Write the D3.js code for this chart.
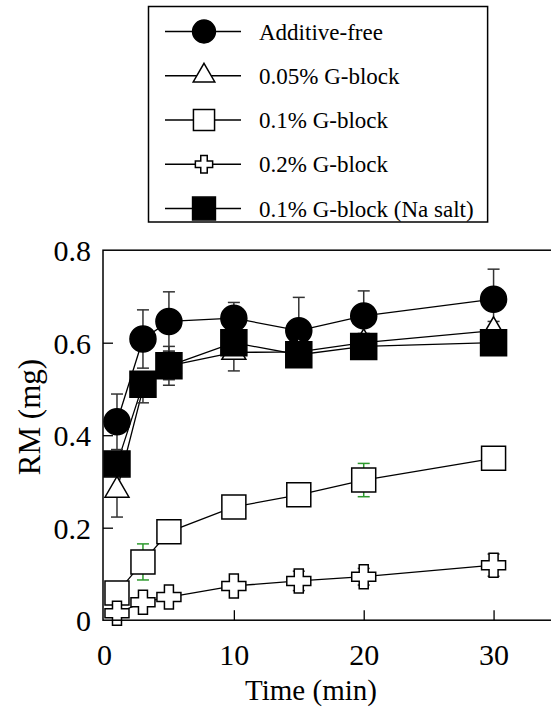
<!DOCTYPE html>
<html>
<head>
<meta charset="utf-8">
<script src="https://cdn.jsdelivr.net/npm/d3@7"></script>
<style>
  html, body { margin: 0; padding: 0; background: #fff; }
  svg { display: block; }
  text { font-family: "Liberation Serif", "Times New Roman", serif; fill: #000; }
</style>
</head>
<body>
<svg id="chart" width="551" height="713"></svg>
<script>
// ---- data ----
const times = [1, 3, 5, 10, 15, 20, 30];
const additiveFree = [0.429, 0.608, 0.646, 0.653, 0.626, 0.658, 0.694];
const additiveFreeErr = [0.06, 0.063, 0.064, 0.034, 0.072, 0.054, 0.065];
const gblock005 = [0.281, 0.50, 0.55, 0.579, 0.58, 0.60, 0.626];
const gblock005Err = [0.058, 0.03, 0.03, 0.04, 0.02, 0.02, 0.02];
const gblock01 = [0.059, 0.126, 0.191, 0.245, 0.271, 0.303, 0.35];
const gblock01Err = [0.01, 0.039, 0.01, 0.01, 0.01, 0.036, 0.01];
const gblock02 = [0.015, 0.039, 0.05, 0.074, 0.085, 0.094, 0.119];
const gblock02Err = [0.005, 0.005, 0.005, 0.008, 0.021, 0.018, 0.024];
const gblock01Na = [0.338, 0.51, 0.55, 0.60, 0.574, 0.592, 0.60];
const gblock01NaErr = [0.02, 0.02, 0.042, 0.02, 0.02, 0.02, 0.02];
const seriesNames = ["Additive-free", "0.05% G-block", "0.1% G-block", "0.2% G-block", "0.1% G-block (Na salt)"];
const xTicks = [0, 10, 20, 30];
const yTicks = [0, 0.2, 0.4, 0.6, 0.8];
const xLabel = "Time (min)";
const yLabel = "RM (mg)";

// ---- layout ----
const svg = d3.select("#chart");
const x = d3.scaleLinear().domain([0, 35]).range([104, 558.5]);
const y = d3.scaleLinear().domain([0, 0.8]).range([620.2, 250.2]);

const G = "#333", GR = "#2e9a2e";
const series = [
  { name: seriesNames[0], vals: additiveFree, err: additiveFreeErr, shape: "circle", fill: "#000", errColor: [G,G,G,G,G,G,G] },
  { name: seriesNames[1], vals: gblock005, err: gblock005Err, shape: "triangle", fill: "#fff", errColor: [G,G,G,G,G,G,G] },
  { name: seriesNames[2], vals: gblock01, err: gblock01Err, shape: "square", fill: "#fff", errColor: [G,GR,G,G,G,GR,G] },
  { name: seriesNames[3], vals: gblock02, err: gblock02Err, shape: "cross", fill: "#fff", errColor: [G,G,G,G,G,G,G] },
  { name: seriesNames[4], vals: gblock01Na, err: gblock01NaErr, shape: "bigsquare", fill: "#000", errColor: [G,G,G,G,G,G,G] }
];

function shapePath(shape, s) {
  if (shape === "circle") return d3.symbol(d3.symbolCircle, Math.PI * Math.pow(13 * s, 2))();
  if (shape === "triangle") { const r = 6.93 * s; return d3.symbol(d3.symbolTriangle, r * r * 3 * Math.sqrt(3))(); }
  if (shape === "square") { const h = 12 * s; return `M${-h},${-h}H${h}V${h}H${-h}Z`; }
  if (shape === "bigsquare") { const h = 13 * s; return `M${-h},${-h}H${h}V${h}H${-h}Z`; }
  if (shape === "cross") {
    const h = 12 * s, a = 4.5 * s;
    return `M${-a},${-h}H${a}V${-a}H${h}V${a}H${a}V${h}H${-a}V${a}H${-h}V${-a}H${-a}Z`;
  }
}

const plot = svg.append("g");

// connecting lines
series.forEach(sr => {
  plot.append("path")
    .datum(times.map((t, i) => [t, sr.vals[i]]))
    .attr("fill", "none").attr("stroke", "#000").attr("stroke-width", 1.3)
    .attr("d", d3.line().x(d => x(d[0])).y(d => y(d[1])));
});

// error bars
series.forEach(sr => {
  times.forEach((t, i) => {
    const cx = x(t), y1 = y(sr.vals[i] + sr.err[i]), y2 = y(sr.vals[i] - sr.err[i]);
    const g = plot.append("g").attr("stroke", sr.errColor[i]).attr("stroke-width", 1.5);
    g.append("line").attr("x1", cx).attr("x2", cx).attr("y1", y1).attr("y2", y2);
    g.append("line").attr("x1", cx - 6).attr("x2", cx + 6).attr("y1", y1).attr("y2", y1);
    g.append("line").attr("x1", cx - 6).attr("x2", cx + 6).attr("y1", y2).attr("y2", y2);
  });
});

// markers
series.forEach(sr => {
  plot.append("g").selectAll("path").data(times.map((t, i) => [t, sr.vals[i]]))
    .join("path")
    .attr("transform", d => `translate(${x(d[0])},${y(d[1])})`)
    .attr("d", shapePath(sr.shape, 1))
    .attr("fill", sr.fill).attr("stroke", "#000").attr("stroke-width", 1.5);
});

// frame
const [x0, x1] = x.range();
const [yb, yt] = y.range();
svg.append("rect").attr("x", x0 - 1).attr("y", yt).attr("width", x1 - x0 + 1).attr("height", yb - yt)
  .attr("fill", "none").attr("stroke", "#000").attr("stroke-width", 1.5);

// axes (inward ticks)
const xAxis = d3.axisBottom(x).tickValues(xTicks).tickSize(-10).tickPadding(0).tickFormat(d3.format("d"));
const gx = svg.append("g").attr("transform", `translate(0,${yb})`).call(xAxis);
gx.select(".domain").remove();
gx.selectAll(".tick line").attr("stroke", "#000").attr("stroke-width", 1.3);
gx.selectAll(".tick text").attr("font-size", 30).attr("font-family", "Liberation Serif").attr("y", 45).attr("dy", 0);
gx.selectAll(".tick").filter(d => d === 0).select("line").remove();

const yAxis = d3.axisLeft(y).tickValues(yTicks).tickSize(-10).tickPadding(0).tickFormat(d => d === 0 ? "0" : d3.format(".1f")(d));
const gy = svg.append("g").attr("transform", `translate(${x0 - 1},0)`).call(yAxis);
gy.select(".domain").remove();
gy.selectAll(".tick line").attr("stroke", "#000").attr("stroke-width", 1.3);
gy.selectAll(".tick text").attr("font-size", 30).attr("font-family", "Liberation Serif").attr("x", -12).attr("dy", "0.35em");
gy.selectAll(".tick").filter(d => d === 0 || d === 0.8).select("line").remove();

// axis titles
svg.append("text").attr("x", 311).attr("y", 700).attr("text-anchor", "middle").attr("font-size", 29).text(xLabel);
svg.append("text").attr("transform", "translate(40,417) rotate(-90)").attr("text-anchor", "middle").attr("font-size", 31).text(yLabel);

// legend
const leg = svg.append("g");
const rowY = d3.scaleLinear().domain([0, 4]).range([31.5, 208.5]);
const legScale = [0.88, 0.9, 0.88, 0.72, 0.88];
let maxEnd = 0;
series.forEach((sr, i) => {
  const ry = rowY(i);
  leg.append("line").attr("x1", 165).attr("x2", 241).attr("y1", ry).attr("y2", ry).attr("stroke", "#000").attr("stroke-width", 1.3);
  leg.append("path").attr("transform", `translate(204,${ry})`).attr("d", shapePath(sr.shape, legScale[i]))
    .attr("fill", sr.fill).attr("stroke", "#000").attr("stroke-width", 1.5);
  const t = leg.append("text").attr("x", 259).attr("y", ry + 8).attr("font-size", 23).text(sr.name);
  maxEnd = Math.max(maxEnd, 259 + t.node().getComputedTextLength());
});
leg.insert("rect", ":first-child").attr("x", 148.5).attr("y", 6.5).attr("width", maxEnd + 14 - 148.5).attr("height", 215.5)
  .attr("fill", "#fff").attr("stroke", "#000").attr("stroke-width", 1.5);
</script>
</body>
</html>
